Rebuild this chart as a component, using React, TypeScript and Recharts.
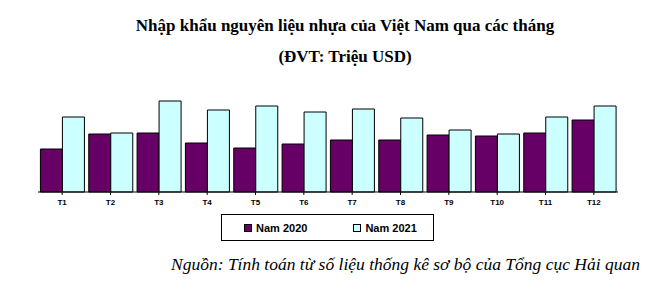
import { BarChart, Bar, XAxis, YAxis } from "recharts";

const months = ["T1", "T2", "T3", "T4", "T5", "T6", "T7", "T8", "T9", "T10", "T11", "T12"];
const nam2020 = [430, 580, 590, 490, 440, 480, 520, 520, 570, 560, 590, 720];
const nam2021 = [750, 590, 910, 820, 860, 800, 830, 740, 620, 580, 750, 860];

const series = [
  { key: "Nam 2020", color: "#660066" },
  { key: "Nam 2021", color: "#ccffff" },
];

const chartData = months.map((m, i) => ({
  name: m,
  "Nam 2020": nam2020[i],
  "Nam 2021": nam2021[i],
}));

const LegendBox = () => (
  <div
    style={{
      position: "absolute",
      left: 221,
      top: 214,
      width: 211,
      height: 25,
      border: "1px solid #000",
      background: "#fff",
      display: "flex",
      alignItems: "center",
      fontFamily: "Arial, 'Liberation Sans', sans-serif",
      fontWeight: "bold",
      fontSize: 11,
      color: "#000",
    }}
  >
    {series.map((s, i) => (
      <div
        key={s.key}
        style={{ display: "flex", alignItems: "center", marginLeft: i === 0 ? 22 : 46 }}
      >
        <span
          style={{
            display: "inline-block",
            width: 6,
            height: 6,
            border: "1px solid #000",
            background: s.color,
            marginRight: 4,
          }}
        />
        {s.key}
      </div>
    ))}
  </div>
);

const App = () => {
  return (
    <div style={{ position: "absolute", left: 0, top: 0, width: 662, height: 290, background: "#fff" }}>
      <div
        style={{
          position: "absolute",
          left: 0,
          width: 690,
          top: 10,
          textAlign: "center",
          fontFamily: "'Liberation Serif', 'Times New Roman', serif",
          fontWeight: "bold",
          fontSize: 17,
          lineHeight: "31px",
          color: "#000",
        }}
      >
        <div>Nhập khẩu nguyên liệu nhựa của Việt Nam qua các tháng</div>
        <div>(ĐVT: Triệu USD)</div>
      </div>
      <BarChart
        width={662}
        height={290}
        data={chartData}
        margin={{ top: 72, right: 44, left: 38, bottom: 78 }}
        barCategoryGap="5%"
        barGap={0}
      >
        <XAxis
          dataKey="name"
          axisLine={{ stroke: "#000" }}
          tickLine={{ stroke: "#000" }}
          tickSize={3}
          tickMargin={4}
          interval={0}
          height={20}
          tick={{ fontSize: 8, fontWeight: "bold", fill: "#000", fontFamily: "Arial, 'Liberation Sans', sans-serif" }}
        />
        <YAxis hide domain={[0, 1200]} />
        {series.map((s) => (
          <Bar
            key={s.key}
            dataKey={s.key}
            fill={s.color}
            stroke="#000"
            strokeWidth={1}
            isAnimationActive={false}
          />
        ))}
      </BarChart>
      <LegendBox />
      <div
        style={{
          position: "absolute",
          right: 22,
          top: 254,
          fontFamily: "'Liberation Serif', 'Times New Roman', serif",
          fontStyle: "italic",
          fontSize: 17.5,
          color: "#000",
          whiteSpace: "nowrap",
        }}
      >
        Nguồn: Tính toán từ số liệu thống kê sơ bộ của Tổng cục Hải quan
      </div>
    </div>
  );
};

export default App;
